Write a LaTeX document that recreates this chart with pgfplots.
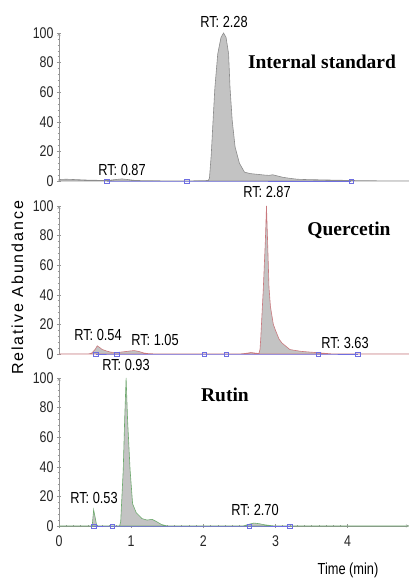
\documentclass[border=0pt]{standalone}
\usepackage{fontspec}
\setmainfont{Liberation Serif}
\newfontfamily\narrow[FakeStretch=0.8]{Liberation Sans}
\newfontfamily\spaced[LetterSpace=12]{Liberation Sans}
\usepackage{pgfplots}
\pgfplotsset{compat=1.18}

\definecolor{pkfill}{RGB}{195,195,195}
\definecolor{trgray}{RGB}{140,140,140}
\definecolor{trred}{RGB}{200,120,125}
\definecolor{trgreen}{RGB}{110,170,110}
\definecolor{basebl}{RGB}{110,110,225}
\definecolor{axgray}{RGB}{150,150,150}

\pgfplotsset{
  panel/.style={
    scale only axis, width=350bp, height=148bp,
    xmin=0, xmax=4.85, ymin=0, ymax=100,
    axis line style={-, draw=axgray},
    ytick={0,20,...,100}, minor y tick num=4,
    tick align=outside, major tick length=4bp, minor tick length=2.5bp,
    every tick/.style={axgray, line width=0.5pt},
    /pgf/number format/assume math mode=true,
    ticklabel style={font=\narrow\fontsize{15.5bp}{15.5bp}\selectfont, text=black!85},
    clip=false,
  },
  trace/.style={fill=pkfill, draw=#1, line width=0.6pt},
  base/.style={draw=basebl, line width=0.7pt, mark=square, mark size=2.2pt,
    mark options={draw=basebl, line width=0.5pt}},
}
\newcommand{\rt}{\narrow\fontsize{16bp}{16bp}\selectfont}
\newcommand{\ttl}{\bfseries\fontsize{19.5bp}{20bp}\selectfont}

\begin{document}
\begin{tikzpicture}
\path[use as bounding box] (0,0) rectangle (409bp,578bp);

% Internal standard
\begin{axis}[panel, at={(59bp,397bp)}, anchor=south west,
    axis y line=left, axis x line=none]
  \addplot[trace=trgray] coordinates {
    (0,1)(0.1,1.2)(0.2,1)(0.3,0.8)(0.4,0.6)(0.5,0.5)(0.6,0.4)(0.66,0.3)
    (0.75,0.8)(0.87,1.4)(0.95,1)(1.05,0.4)(1.2,0.2)(1.5,0.1)(1.8,0.1)
    (2.0,0.2)(2.07,0.4)(2.085,2)(2.11,18)(2.135,41)(2.16,63)(2.2,86)
    (2.245,97)(2.28,100)(2.315,97)(2.35,86)(2.37,63)(2.40,41)(2.44,23)
    (2.50,12)(2.57,6)(2.65,5)(2.75,4.5)(2.85,4)(2.91,3.8)(2.96,4.2)
    (3.02,3.5)(3.1,2.5)(3.2,1.8)(3.3,1.2)(3.4,1)(3.6,0.8)(3.8,0.6)
    (4.0,0.4)(4.2,0.2)(4.5,0.1)(4.85,0.1)
  } \closedcycle;
  \addplot[base] coordinates {(0.66,0)(1.77,0)(4.05,0)};
\end{axis}

% Quercetin
\begin{axis}[panel, at={(59bp,224bp)}, anchor=south west,
    axis y line=left, axis x line=none]
  \addplot[trace=trred] coordinates {
    (0,0)(0.4,0)(0.45,0.5)(0.5,3)(0.53,5.5)(0.56,4.5)(0.6,3)(0.66,2)
    (0.72,1.2)(0.8,1)(0.9,1.5)(0.98,2)(1.04,2.3)(1.1,1.8)(1.18,0.6)
    (1.25,0.2)(1.4,0)(2.5,0)(2.6,0.5)(2.66,1)(2.72,0.6)(2.77,0.3)
    (2.785,3)(2.795,10)(2.83,43)(2.86,77)(2.875,100)(2.89,77)(2.91,45)
    (2.93,32)(2.97,20)(3.0,16)(3.05,10)(3.09,7.4)(3.2,3)(3.35,1.8)
    (3.5,1.2)(3.6,0.8)(3.7,0.4)(3.8,0)(4.85,0)
  } \closedcycle;
  \addplot[base] coordinates {(0.51,0)(0.8,0)(2.01,0)(2.32,0)(3.59,0)(4.14,0)};
\end{axis}

% Rutin
\begin{axis}[panel, at={(59bp,52bp)}, anchor=south west,
    axis y line=left, axis x line=bottom,
    xtick={0,1,2,3,4}, minor x tick num=9,
    xticklabel style={yshift=-4bp}]
  \addplot[trace=trgreen] coordinates {
    (0,0)(0.46,0)(0.48,11)(0.52,1)(0.54,0)(0.84,0)(0.855,3)(0.89,38)
    (0.91,72)(0.93,100)(0.95,72)(0.985,38)(1.02,15)(1.07,9)(1.15,5)
    (1.22,4)(1.29,4.5)(1.35,3)(1.42,1)(1.5,0)(2.55,0)(2.62,1)(2.7,2)
    (2.78,1.5)(2.85,0.8)(2.95,0.2)(3.0,0)(4.85,0)
  } \closedcycle;
  \addplot[base] coordinates {(0.48,0)(0.74,0)(2.64,0)(3.2,0)};
\end{axis}

% labels
\node[font=\ttl] at (322bp,516bp) {Internal standard};
\node[font=\ttl] at (349bp,348bp) {Quercetin};
\node[font=\ttl] at (225bp,183bp) {Rutin};

\node[font=\rt] at (224bp,556bp) {RT: 2.28};
\node[font=\rt] at (122bp,408bp) {RT: 0.87};
\node[font=\rt] at (267bp,386bp) {RT: 2.87};
\node[font=\rt] at (98bp,243bp) {RT: 0.54};
\node[font=\rt] at (155bp,238bp) {RT: 1.05};
\node[font=\rt] at (345bp,235bp) {RT: 3.63};
\node[font=\rt] at (126bp,213bp) {RT: 0.93};
\node[font=\rt] at (94bp,80bp) {RT: 0.53};
\node[font=\rt] at (255bp,68bp) {RT: 2.70};

\node[font=\rt] at (348bp,8bp) {Time (min)};
\node[rotate=90, font=\spaced\fontsize{16bp}{16bp}\selectfont] at (17.5bp,290bp) {Relative Abundance};
\end{tikzpicture}
\end{document}
